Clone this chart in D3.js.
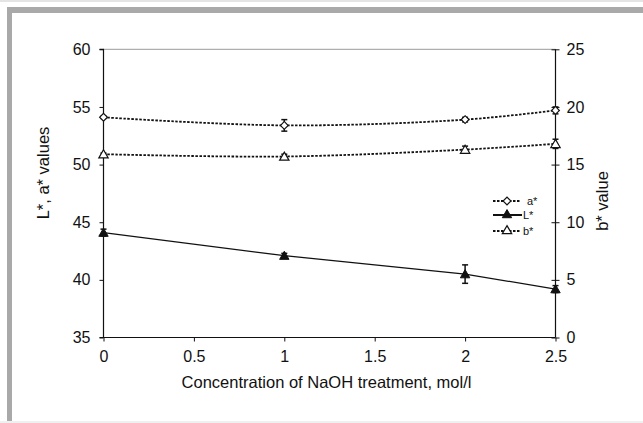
<!DOCTYPE html>
<html>
<head>
<meta charset="utf-8">
<script src="https://cdn.jsdelivr.net/npm/d3@7"></script>
<style>
  html, body { margin: 0; padding: 0; background: #fff; }
  svg { display: block; font-family: "Liberation Sans", Arial, sans-serif; }
</style>
</head>
<body>
<svg id="chart" width="643" height="423"></svg>
<script>
// ---- data ----
const concentrations = [0, 1, 2, 2.5];
const aStar = [54.1, 53.4, 53.9, 54.7];
const aStarErr = [0.1, 0.5, 0.2, 0.3];
const lStar = [44.1, 42.1, 40.5, 39.2];
const lStarErr = [0.3, 0.2, 0.8, 0.3];
const bStar = [15.9, 15.7, 16.3, 16.8];
const bStarErr = [0.1, 0.2, 0.3, 0.4];
const xTicks = [0, 0.5, 1, 1.5, 2, 2.5];
const yLeftTicks = [35, 40, 45, 50, 55, 60];
const yRightTicks = [0, 5, 10, 15, 20, 25];
const xTitle = "Concentration of NaOH treatment, mol/l";
const yLeftTitle = "L*, a* values";
const yRightTitle = "b* value";
const legendLabels = ["a*", "L*", "b*"];

// ---- layout ----
const svg = d3.select("#chart");
const L = 103.5, R = 555.5, T = 49.3, B = 337.5;
const x = d3.scaleLinear().domain([0, 2.5]).range([L, R]);
const yL = d3.scaleLinear().domain([35, 60]).range([B, T]);
const yR = d3.scaleLinear().domain([0, 25]).range([B, T]);

// outer frame
svg.append("rect").attr("x", 0).attr("y", 0).attr("width", 643).attr("height", 2).attr("fill", "#e4e4e4");
svg.append("rect").attr("x", 7).attr("y", 7).attr("width", 636).attr("height", 6).attr("fill", "#a9a9a9");
svg.append("rect").attr("x", 7).attr("y", 7).attr("width", 5).attr("height", 416).attr("fill", "#a9a9a9");
svg.append("rect").attr("x", 0).attr("y", 421).attr("width", 643).attr("height", 2).attr("fill", "#f0f0f0");

// top plot border
svg.append("line").attr("x1", L).attr("x2", R).attr("y1", T).attr("y2", T)
  .attr("stroke", "#9a9a9a").attr("stroke-width", 1);

const fontSize = 16;
// axes
const gx = svg.append("g").attr("transform", `translate(0,${B})`)
  .call(d3.axisBottom(x).tickValues(xTicks).tickSize(4).tickPadding(9).tickFormat(d3.format("")));
const gl = svg.append("g").attr("transform", `translate(${L},0)`)
  .call(d3.axisLeft(yL).tickValues(yLeftTicks).tickSize(4).tickPadding(9));
const gr = svg.append("g").attr("transform", `translate(${R},0)`)
  .call(d3.axisRight(yR).tickValues(yRightTicks).tickSize(4).tickPadding(7));
// right ticks cross the axis
gr.selectAll(".tick line").attr("x1", -4).attr("x2", 4);

[gx, gl, gr].forEach(g => {
  g.select(".domain").attr("stroke", "#111").attr("stroke-width", 1.2);
  g.selectAll(".tick line").attr("stroke", "#111").attr("stroke-width", 1);
  g.selectAll(".tick text").attr("fill", "#111").attr("font-size", fontSize)
    .attr("font-family", "'Liberation Sans', Arial, sans-serif");
});
gl.select(".domain").attr("d", `M-4,${B}H0V${T}H-4`);
gr.select(".domain").attr("d", `M0,${B}V${T}`);
gx.select(".domain").attr("d", `M${L},0H${R}`);

// titles
svg.append("text").attr("x", (L + R) / 2 - 3).attr("y", 388).attr("text-anchor", "middle")
  .attr("font-size", 16.5).attr("fill", "#111").text(xTitle);
svg.append("text").attr("transform", "translate(49,173) rotate(-90)").attr("text-anchor", "middle")
  .attr("font-size", 16.5).attr("fill", "#111").text(yLeftTitle);
svg.append("text").attr("transform", "translate(608,201) rotate(-90)").attr("text-anchor", "middle")
  .attr("font-size", 16.5).attr("fill", "#111").text(yRightTitle);

// series
const dotted = "2.5,1.5";
const series = [
  { vals: aStar, err: aStarErr, y: yL, dash: dotted, curve: d3.curveCatmullRom, marker: "diamond" },
  { vals: bStar, err: bStarErr, y: yR, dash: dotted, curve: d3.curveCatmullRom, marker: "triOpen" },
  { vals: lStar, err: lStarErr, y: yL, dash: null, curve: d3.curveLinear, marker: "triFill" }
];

const diamondPath = d3.symbol().type(d3.symbolSquare).size(30)();
const triPath = d3.symbol().type(d3.symbolTriangle).size(38)();

function drawMarker(g, type, cx, cy) {
  if (type === "diamond") {
    g.append("path").attr("d", diamondPath)
      .attr("transform", `translate(${cx},${cy}) rotate(45)`)
      .attr("fill", "#fff").attr("stroke", "#111").attr("stroke-width", 1.2);
  } else if (type === "triOpen") {
    g.append("path").attr("d", triPath)
      .attr("transform", `translate(${cx},${cy + 1})`)
      .attr("fill", "#fff").attr("stroke", "#111").attr("stroke-width", 1.2);
  } else {
    g.append("path").attr("d", triPath)
      .attr("transform", `translate(${cx},${cy + 1})`)
      .attr("fill", "#111").attr("stroke", "#111").attr("stroke-width", 1);
  }
}

series.forEach(s => {
  const pts = concentrations.map((c, i) => [x(c), s.y(s.vals[i])]);
  svg.append("path").attr("d", d3.line().curve(s.curve)(pts))
    .attr("fill", "none").attr("stroke", "#111")
    .attr("stroke-width", s.dash ? 1.8 : 1.3)
    .attr("stroke-dasharray", s.dash);
  const g = svg.append("g");
  concentrations.forEach((c, i) => {
    const cx = x(c);
    const y1 = s.y(s.vals[i] - s.err[i]), y2 = s.y(s.vals[i] + s.err[i]);
    g.append("line").attr("x1", cx).attr("x2", cx).attr("y1", y1).attr("y2", y2)
      .attr("stroke", "#111").attr("stroke-width", 1.5);
    [y1, y2].forEach(yy => g.append("line").attr("x1", cx - 3).attr("x2", cx + 3)
      .attr("y1", yy).attr("y2", yy).attr("stroke", "#111").attr("stroke-width", 1.5));
    drawMarker(g, s.marker, cx, s.y(s.vals[i]));
  });
});

// legend
const legendRows = [
  { y: 201, dash: dotted, marker: "diamond", tx: 527, x2: 520 },
  { y: 215, dash: null, marker: "triFill", tx: 523, x2: 522 },
  { y: 231, dash: dotted, marker: "triOpen", tx: 523, x2: 520 }
];
const lg = svg.append("g");
legendRows.forEach((r, i) => {
  lg.append("line").attr("x1", 493).attr("x2", r.x2).attr("y1", r.y).attr("y2", r.y)
    .attr("stroke", "#111").attr("stroke-width", r.dash ? 1.8 : 2)
    .attr("stroke-dasharray", r.dash);
  drawMarker(lg, r.marker, 507, r.y - (r.marker === "diamond" ? 0 : 1));
  lg.append("text").attr("x", r.tx).attr("y", r.y + 4).attr("font-size", 11)
    .attr("fill", "#111").text(legendLabels[i]);
});
</script>
</body>
</html>
